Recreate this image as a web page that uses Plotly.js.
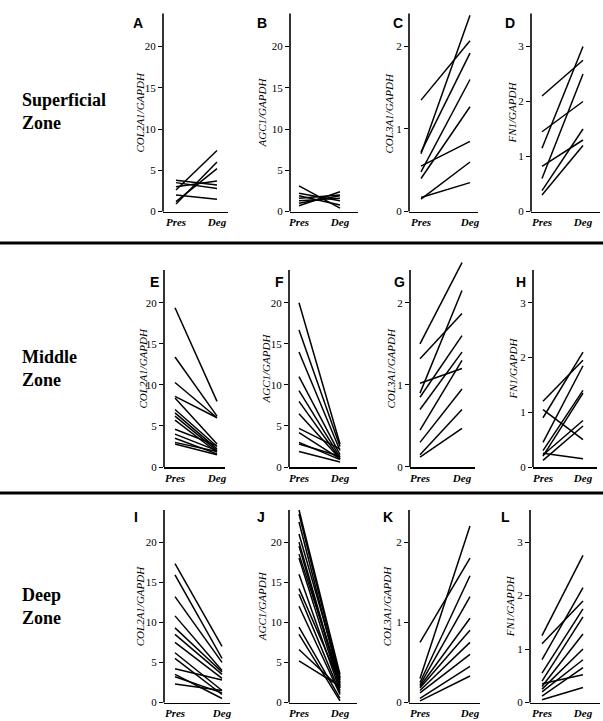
<!DOCTYPE html>
<html>
<head>
<meta charset="utf-8">
<script src="https://cdn.plot.ly/plotly-3.0.1.min.js"></script>
<style>html,body{margin:0;padding:0;background:#fff;}#chart{width:603px;height:721px;}</style>
</head>
<body>
<div id="chart"></div>
<script>
// ---- data ----
const xCategories = ['Pres', 'Deg'];
const zones = ['Superficial', 'Middle', 'Deep'];
const panelLetters = ['A','B','C','D','E','F','G','H','I','J','K','L'];
const genes = ['COL2A1/GAPDH', 'AGC1/GAPDH', 'COL3A1/GAPDH', 'FN1/GAPDH'];
const ticksBig = [0, 5, 10, 15, 20];
const ticksCol3 = [0, 1, 2];
const ticksFn1 = [0, 1, 2, 3];

const presA = [3.8, 3.5, 3.0, 2.6, 2.0, 1.2, 0.9];
const degA  = [3.2, 2.8, 3.7, 7.4, 1.5, 5.2, 6.0];
const presB = [3.1, 2.2, 1.9, 1.6, 1.3, 1.0, 0.7];
const degB  = [0.4, 1.3, 0.8, 2.0, 1.6, 1.9, 2.4];
const presC = [1.35, 0.72, 0.70, 0.48, 0.40, 0.55, 0.15, 0.17];
const degC  = [2.07, 1.92, 2.38, 1.60, 1.27, 0.85, 0.60, 0.35];
const presD = [2.1, 1.45, 1.15, 0.82, 0.6, 0.38, 0.3];
const degD  = [2.75, 2.0, 3.0, 1.3, 2.5, 1.5, 1.2];

const presE = [19.4, 13.4, 10.3, 8.6, 8.4, 7.0, 6.6, 6.2, 5.7, 4.6, 4.0, 3.5, 3.0, 2.8];
const degE  = [8.0, 6.2, 6.0, 6.0, 2.8, 2.5, 2.2, 2.0, 1.8, 2.6, 2.0, 1.6, 1.9, 1.5];
const presF = [20.0, 16.7, 14.0, 11.0, 9.3, 8.0, 6.5, 4.7, 4.2, 3.0, 2.8, 1.9];
const degF  = [2.8, 2.5, 2.0, 1.5, 1.2, 1.0, 1.0, 2.2, 1.0, 0.9, 1.3, 0.6];
const presG = [1.50, 1.32, 0.90, 1.02, 0.85, 0.70, 0.45, 0.30, 0.15, 0.12];
const degG  = [2.49, 1.87, 2.15, 1.20, 1.60, 1.40, 1.30, 0.95, 0.70, 0.47];
const presH = [1.2, 1.05, 0.9, 0.45, 0.3, 0.25, 0.22, 0.2, 0.12];
const degH  = [1.95, 0.5, 2.1, 1.85, 1.4, 0.15, 0.85, 1.35, 0.75];

const presI = [17.3, 15.9, 13.2, 10.8, 9.3, 8.5, 7.5, 6.2, 5.5, 4.2, 3.5, 3.2, 2.3];
const degI  = [7.0, 5.5, 5.0, 4.0, 3.8, 3.5, 3.0, 1.5, 1.0, 2.8, 0.5, 1.2, 1.5];
const presJ = [24.0, 23.5, 22.5, 21.0, 20.0, 19.5, 18.5, 18.0, 16.0, 14.2, 13.5, 12.0, 9.4, 8.5, 6.6, 5.2];
const degJ  = [3.5, 3.0, 2.5, 3.2, 2.2, 2.0, 2.8, 1.8, 1.5, 2.4, 1.2, 1.0, 0.5, 0.2, 1.8, 2.0];
const presK = [0.75, 0.30, 0.25, 0.22, 0.20, 0.18, 0.15, 0.12, 0.05, 0.02];
const degK  = [1.80, 2.20, 1.58, 1.32, 1.05, 0.90, 0.75, 0.60, 0.45, 0.33];
const presL = [1.25, 1.1, 0.8, 0.55, 0.4, 0.3, 0.25, 0.2, 0.12, 0.35, 0.05];
const degL  = [2.75, 1.9, 2.15, 1.75, 1.6, 1.28, 1.0, 0.8, 0.65, 0.52, 0.28];

// ---- layout helpers ----
const W = 603, H = 721;
const px = x => x / W, py = y => 1 - y / H;
const SERIF = '"Liberation Serif", "Times New Roman", serif';
const SANS = '"Liberation Sans", Arial, sans-serif';

const kinds = [
  {top: 24,  ticks: ticksBig},
  {top: 24,  ticks: ticksBig},
  {top: 2.4, ticks: ticksCol3},
  {top: 3.6, ticks: ticksFn1}
];
const rowGeom = [
  {top: 13.5, zero: 211.5},
  {top: 270,  zero: 467},
  {top: 510,  zero: 702.5}
];
// per-panel horizontal geometry in pixels: axis x, Pres x, Deg x, axis end, letter x, title x
const geom = [
  [163, 176, 217, 228, 138, 140], [290, 299, 340, 358, 262, 262], [409, 421, 470, 478, 398, 389], [531, 542, 583, 600, 510, 512],
  [164, 175, 217, 225, 154, 142], [289, 299, 340, 357, 279, 265], [410, 420, 462, 475, 399, 390], [533, 543, 583, 597, 521, 512],
  [164, 175, 222, 230, 136, 140], [289, 299, 340, 357, 261, 262], [409, 420, 470, 480, 388, 387], [530, 542, 583, 600, 505, 510]
];
const letterY = [23, 282, 517];
const presAll = [presA, presB, presC, presD, presE, presF, presG, presH, presI, presJ, presK, presL];
const degAll  = [degA, degB, degC, degD, degE, degF, degG, degH, degI, degJ, degK, degL];

const data = [], shapes = [], annotations = [];
const layout = {
  width: W, height: H, margin: {l: 0, r: 0, t: 0, b: 0},
  paper_bgcolor: '#fff', plot_bgcolor: 'rgba(0,0,0,0)', showlegend: false,
  font: {family: SERIF, color: '#000', size: 11}
};

for (let p = 0; p < 12; p++) {
  const row = Math.floor(p / 4), col = p % 4;
  const k = kinds[col], rg = rowGeom[row], g = geom[p];
  const pres = presAll[p], deg = degAll[p];
  const xs = [], ys = [];
  for (let i = 0; i < pres.length; i++) {
    xs.push(0, 1, null); ys.push(pres[i], deg[i], null);
  }
  const maxVal = Math.max(...pres, ...deg);
  const rangeTop = Math.max(k.top, maxVal * 1.01);
  const ppu = (rg.zero - rg.top) / k.top;
  const domTopPx = rg.zero - rangeTop * ppu;
  const xppu = g[2] - g[1];
  const xr = [(g[0] - g[1]) / xppu, (g[3] - g[1]) / xppu];
  const n = p + 1, xa = 'xaxis' + (n === 1 ? '' : n), ya = 'yaxis' + (n === 1 ? '' : n);
  const xid = 'x' + (n === 1 ? '' : n), yid = 'y' + (n === 1 ? '' : n);

  data.push({x: xs, y: ys, xaxis: xid, yaxis: yid, mode: 'lines', type: 'scatter',
    line: {color: '#000', width: 1.5}, hoverinfo: 'skip', connectgaps: false});

  layout[xa] = {domain: [px(g[0]), px(g[3])], range: xr, anchor: yid,
    showgrid: false, zeroline: false, showline: true, linecolor: '#000', linewidth: 1.6,
    tickvals: [0, 1], ticktext: xCategories.map(t => '<b><i>' + t + '</i></b>'),
    ticks: '', tickfont: {family: SERIF, size: 11, color: '#000'}};
  layout[ya] = {domain: [py(rg.zero), py(domTopPx)], range: [0, rangeTop], anchor: xid,
    showgrid: false, zeroline: false, showline: false,
    tickvals: k.ticks, ticktext: k.ticks.map(String), ticks: 'outside', ticklen: 4,
    tickwidth: 1, tickcolor: '#000', tickfont: {family: SERIF, size: 11, color: '#000'}};

  // y axis line (up to the axis top)
  shapes.push({type: 'line', xref: 'paper', yref: 'paper', x0: px(g[0]), x1: px(g[0]),
    y0: py(rg.zero), y1: py(rg.top), line: {color: '#000', width: 1.6}});

  annotations.push({text: '<b>' + panelLetters[p] + '</b>', xref: 'paper', yref: 'paper',
    x: px(g[4]), y: py(letterY[row]), xanchor: 'center', yanchor: 'middle', showarrow: false,
    font: {family: SANS, size: 14, color: '#000'}});
  annotations.push({text: '<i>' + genes[col] + '</i>', xref: 'paper', yref: 'paper',
    x: px(g[5]), y: py((rg.top + rg.zero) / 2), xanchor: 'center', yanchor: 'middle',
    textangle: -90, showarrow: false, font: {family: SERIF, size: 11, color: '#000'}});
}

// zone labels (two lines each)
const zoneY = [112, 368, 606];
for (let r = 0; r < 3; r++) {
  annotations.push({text: '<b>' + zones[r] + '</b><br><b>Zone</b>', xref: 'paper', yref: 'paper',
    x: px(20), y: py(zoneY[r]), xanchor: 'left', yanchor: 'middle', align: 'left', showarrow: false,
    font: {family: SERIF, size: 18, color: '#000'}});
}
// row separators
[243, 493].forEach(y => shapes.push({type: 'line', xref: 'paper', yref: 'paper',
  x0: 0, x1: 1, y0: py(y), y1: py(y), line: {color: '#000', width: 3}}));

layout.shapes = shapes;
layout.annotations = annotations;
Plotly.newPlot('chart', data, layout, {staticPlot: true, displayModeBar: false});
</script>
</body>
</html>
